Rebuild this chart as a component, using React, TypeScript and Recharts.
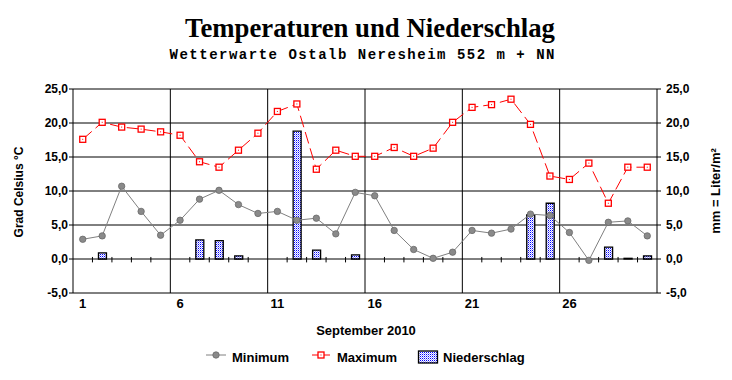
import {
  Bar,
  CartesianGrid,
  ComposedChart,
  Line,
  ReferenceLine,
  XAxis,
  YAxis,
} from "recharts";

const days = [
  1, 2, 3, 4, 5, 6, 7, 8, 9, 10, 11, 12, 13, 14, 15, 16, 17, 18, 19, 20, 21,
  22, 23, 24, 25, 26, 27, 28, 29, 30,
];

const minTemps = [
  2.9, 3.4, 10.7, 7.0, 3.5, 5.7, 8.8, 10.1, 8.0, 6.7, 7.0, 5.7, 6.0, 3.7, 9.8,
  9.3, 4.2, 1.4, 0.1, 1.0, 4.2, 3.8, 4.4, 6.6, 6.4, 3.9, -0.2, 5.4, 5.6, 3.4,
];

const maxTemps = [
  17.6, 20.1, 19.4, 19.1, 18.7, 18.2, 14.3, 13.5, 16.0, 18.5, 21.7, 22.8, 13.2,
  16.0, 15.1, 15.1, 16.4, 15.1, 16.3, 20.1, 22.3, 22.7, 23.5, 19.8, 12.2, 11.7,
  14.1, 8.2, 13.5, 13.5,
];

const rain = [
  0, 0.9, 0, 0, 0, 0, 2.8, 2.7, 0.45, 0, 0, 18.8, 1.3, 0, 0.6, 0, 0, 0, 0, 0,
  0, 0, 0, 6.5, 8.2, 0, 0, 1.75, 0.1, 0.45,
];

const dayTicks = [1, 6, 11, 16, 21, 26];
const valueTicks = [-5, 0, 5, 10, 15, 20, 25];

const data = days.map((day, i) => ({
  day,
  min: minTemps[i],
  max: maxTemps[i],
  rain: rain[i],
}));

// Grenzen zwischen den Tagen: jede 5. als Gitterlinie, sonst kleine Striche auf der Nulllinie
const majorBounds = days.filter((d) => d % 5 === 0 && d < 30).map((d) => d + 0.5);
const minorBounds = days.filter((d) => d % 5 !== 0 && d < 30).map((d) => d + 0.5);

const fmt = (v: number) => v.toFixed(1).replace(".", ",");
const font = "'Liberation Sans', Arial, sans-serif";
const tickStyle = { fontSize: 12, fontWeight: 700, fill: "#000", fontFamily: font };

function MinDot(props: any) {
  const { cx, cy, index } = props;
  if (cx == null || cy == null) return <g key={`mn-${index}`} />;
  return (
    <circle key={`mn-${index}`} cx={cx} cy={cy} r={3.2} fill="#8a8a8a" stroke="#6a6a6a" strokeWidth={0.8} />
  );
}

function MaxDot(props: any) {
  const { cx, cy, index } = props;
  if (cx == null || cy == null) return <g key={`mx-${index}`} />;
  return (
    <g key={`mx-${index}`}>
      <rect x={cx - 3} y={cy - 3} width={6} height={6} fill="#fff" stroke="#ff0000" strokeWidth={1.3} />
      <rect x={cx - 0.5} y={cy - 0.5} width={1} height={1} fill="#ff0000" />
    </g>
  );
}

function DotPattern({ id }: { id: string }) {
  return (
    <pattern id={id} patternUnits="userSpaceOnUse" width={2} height={2}>
      <rect width={2} height={2} fill="#ffffff" />
      <rect x={0} y={0} width={1} height={1} fill="#0000ff" shapeRendering="crispEdges" />
      <rect x={1} y={1} width={1} height={1} fill="#4a4aff" shapeRendering="crispEdges" opacity={0.55} />
    </pattern>
  );
}

export default function App() {
  return (
    <div
      style={{
        position: "absolute",
        left: 0,
        top: 0,
        width: 732,
        height: 380,
        background: "#fff",
        fontFamily: font,
      }}
    >
      <ComposedChart
        width={732}
        height={380}
        data={data}
        margin={{ top: 89, right: 15, bottom: 57, left: 13 }}
      >
        <defs>
          <DotPattern id="rainDots" />
        </defs>
        <CartesianGrid yAxisId="left" vertical={false} stroke="#000" strokeWidth={1} />
        <XAxis
          dataKey="day"
          type="number"
          domain={[0.5, 30.5]}
          ticks={dayTicks}
          interval={0}
          height={30}
          tickSize={0}
          tickMargin={6}
          axisLine={false}
          tick={{ ...tickStyle, fontSize: 13 }}
        />
        <YAxis
          yAxisId="left"
          domain={[-5, 25]}
          ticks={valueTicks}
          interval={0}
          width={60}
          tickSize={4}
          tickMargin={1}
          tickFormatter={fmt}
          axisLine={{ stroke: "#000" }}
          tickLine={{ stroke: "#000" }}
          tick={tickStyle}
        />
        <YAxis
          yAxisId="right"
          orientation="right"
          domain={[-5, 25]}
          ticks={valueTicks}
          interval={0}
          width={60}
          tickSize={4}
          tickMargin={5}
          tickFormatter={fmt}
          axisLine={{ stroke: "#000" }}
          tickLine={{ stroke: "#000" }}
          tick={tickStyle}
        />
        {majorBounds.map((x) => (
          <ReferenceLine key={`g-${x}`} yAxisId="left" x={x} stroke="#000" strokeWidth={1} />
        ))}
        {minorBounds.map((x) => (
          <ReferenceLine
            key={`t-${x}`}
            yAxisId="left"
            segment={[
              { x, y: 0.3 },
              { x, y: -0.5 },
            ]}
            stroke="#000"
            strokeWidth={1}
          />
        ))}
        <Bar
          yAxisId="right"
          dataKey="rain"
          name="Niederschlag"
          barSize={8}
          fill="url(#rainDots)"
          stroke="#000"
          strokeWidth={1.3}
          isAnimationActive={false}
        />
        <Line
          yAxisId="left"
          type="linear"
          dataKey="min"
          name="Minimum"
          stroke="#808080"
          strokeWidth={1}
          dot={MinDot}
          activeDot={false}
          isAnimationActive={false}
        />
        <Line
          yAxisId="left"
          type="linear"
          dataKey="max"
          name="Maximum"
          stroke="#ff0000"
          strokeWidth={1}
          strokeDasharray="12 5"
          dot={MaxDot}
          activeDot={false}
          isAnimationActive={false}
        />
      </ComposedChart>

      <svg
        width={732}
        height={380}
        style={{ position: "absolute", left: 0, top: 0, pointerEvents: "none" }}
      >
        <defs>
          <DotPattern id="legendDots" />
        </defs>
        <text
          x={370}
          y={37}
          textAnchor="middle"
          textLength={370}
          lengthAdjust="spacingAndGlyphs"
          style={{ fontFamily: "'Liberation Serif', 'Times New Roman', serif", fontSize: 27, fontWeight: 700 }}
        >
          Temperaturen und Niederschlag
        </text>
        <text
          x={362}
          y={59}
          textAnchor="middle"
          textLength={385}
          lengthAdjust="spacing"
          style={{ fontFamily: "'Liberation Mono', 'Courier New', monospace", fontSize: 14, fontWeight: 700 }}
        >
          Wetterwarte Ostalb Neresheim 552 m + NN
        </text>
        <text
          x={19}
          y={192}
          textAnchor="middle"
          dominantBaseline="central"
          transform="rotate(-90 19 192)"
          style={{ fontFamily: font, fontSize: 12, fontWeight: 700 }}
        >
          Grad Celsius °C
        </text>
        <text
          x={715}
          y={191}
          textAnchor="middle"
          dominantBaseline="central"
          transform="rotate(-90 715 191)"
          style={{ fontFamily: font, fontSize: 13, fontWeight: 700 }}
        >
          mm = Liter/m²
        </text>
        <text
          x={366}
          y={335}
          textAnchor="middle"
          style={{ fontFamily: font, fontSize: 13, fontWeight: 700 }}
        >
          September 2010
        </text>

        {/* Legende */}
        <g style={{ fontFamily: font, fontSize: 13, fontWeight: 700 }}>
          <line x1={206} y1={355} x2={226} y2={355} stroke="#808080" strokeWidth={1} />
          <circle cx={216} cy={355} r={3.2} fill="#8a8a8a" stroke="#6a6a6a" strokeWidth={0.8} />
          <text x={232} y={362}>Minimum</text>

          <line x1={312} y1={355} x2={330} y2={355} stroke="#ff0000" strokeWidth={1} />
          <rect x={318} y={352} width={6} height={6} fill="#fff" stroke="#ff0000" strokeWidth={1.3} />
          <rect x={320.5} y={354.5} width={1} height={1} fill="#ff0000" />
          <text x={337} y={362}>Maximum</text>

          <rect x={418.5} y={351} width={19} height={12} fill="url(#legendDots)" stroke="#000" strokeWidth={1.3} />
          <text x={443} y={362}>Niederschlag</text>
        </g>
      </svg>
    </div>
  );
}
